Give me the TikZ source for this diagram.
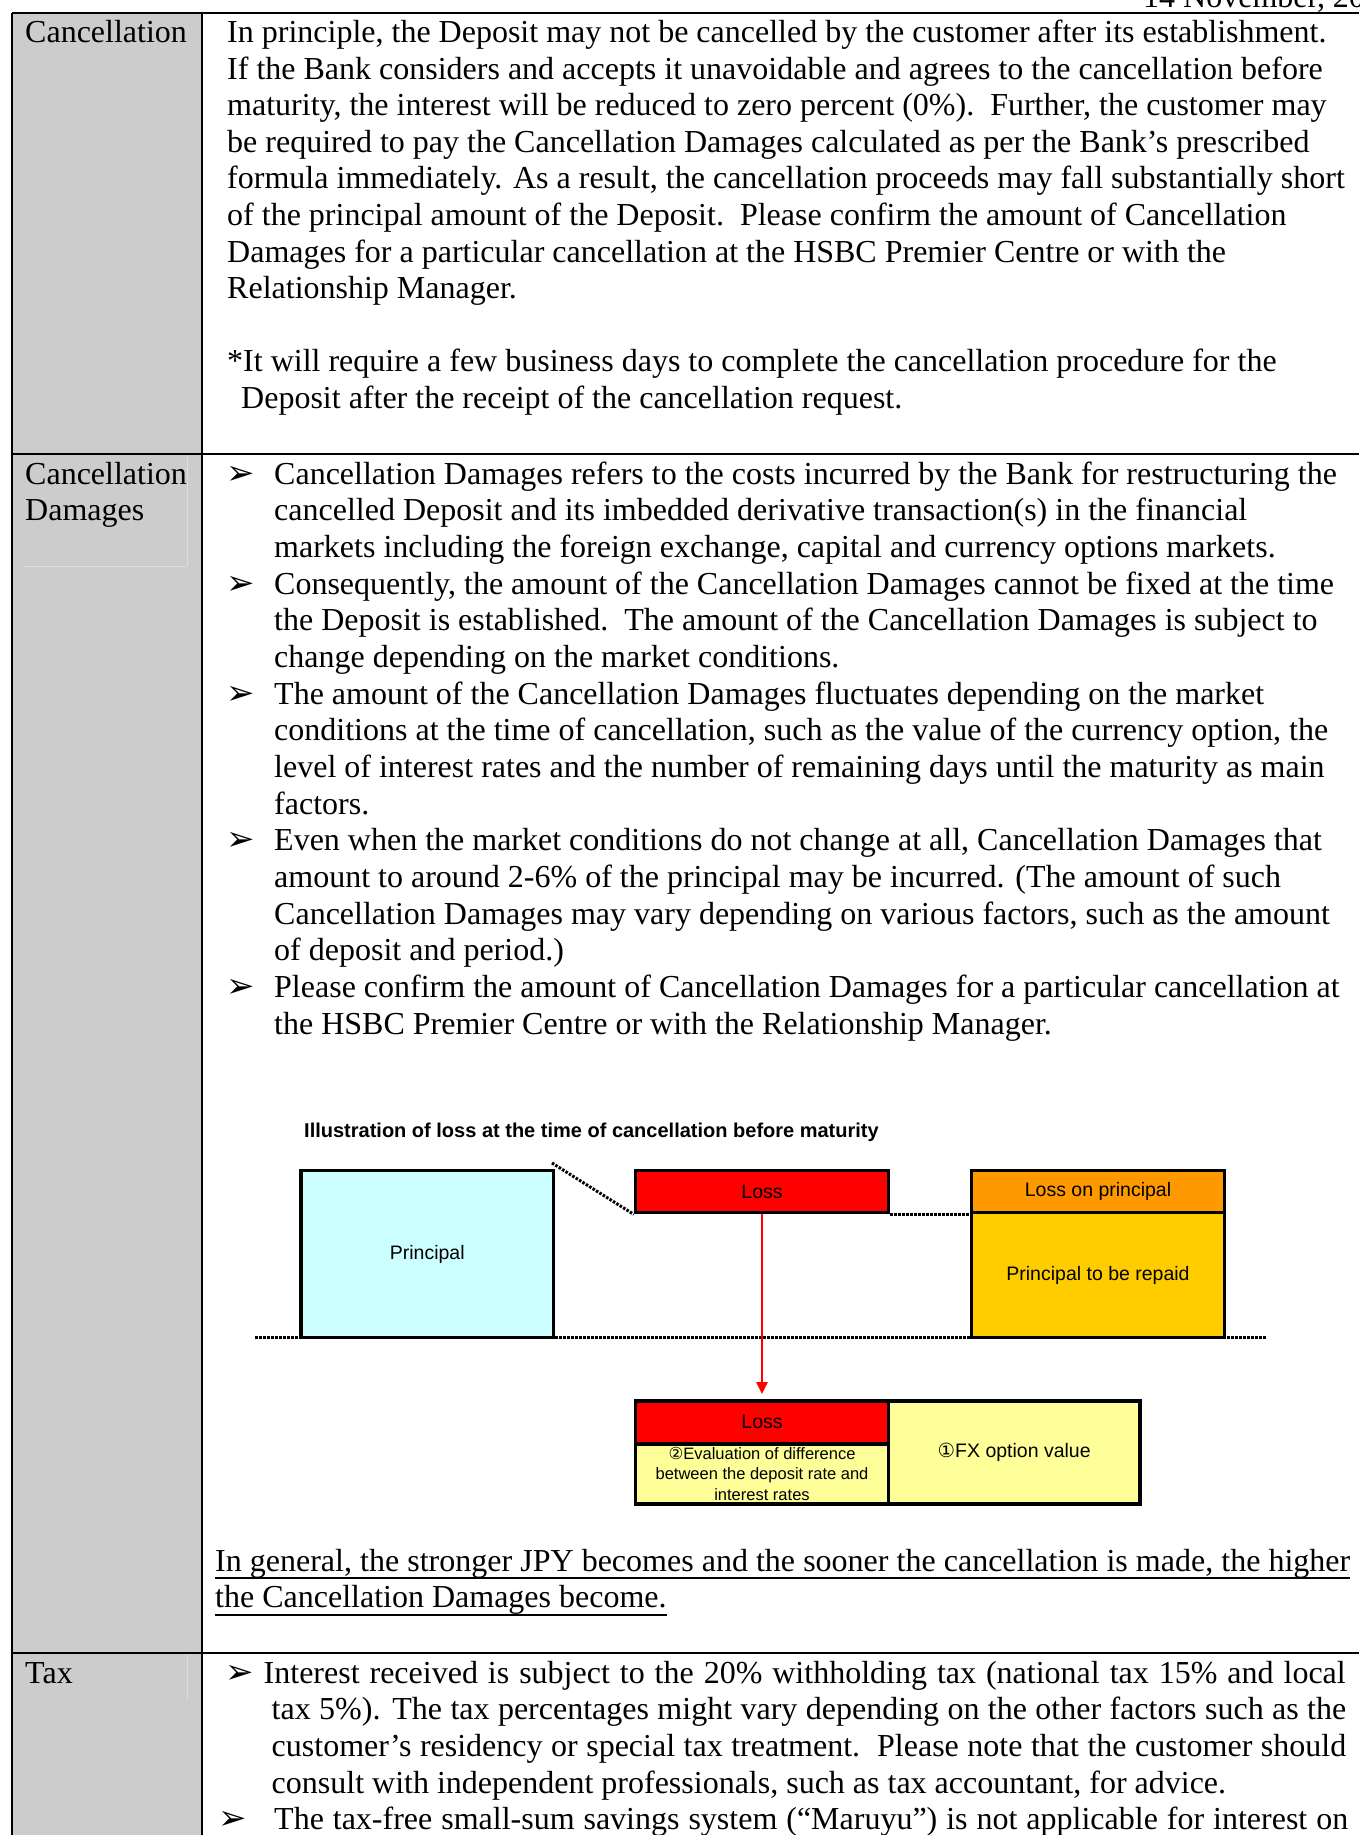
\documentclass[tikz,border=0pt]{standalone}
\usepackage{fontspec}
\setmainfont{Liberation Serif}
\newfontfamily\arialf{Liberation Sans}
\newfontfamily\djvf{DejaVu Sans}
\usetikzlibrary{arrows.meta}
\definecolor{colgray}{RGB}{204,204,204}
\definecolor{faintline}{RGB}{222,222,222}
\definecolor{princ}{RGB}{204,255,255}
\definecolor{lossred}{RGB}{255,0,0}
\definecolor{lossor}{RGB}{255,153,0}
\definecolor{repaid}{RGB}{255,204,0}
\definecolor{lyellow}{RGB}{255,255,153}
\tikzset{
  body/.style={anchor=base west, inner sep=0pt, font=\fontsize{32}{36.6}\selectfont},
  bul/.style={anchor=base west, inner sep=0pt, font=\djvf\fontsize{34}{34}\selectfont},
  bx/.style={draw=black, line width=3.5pt, inner sep=0pt, font=\arialf\fontsize{19.5}{22}\selectfont, text=black},
  gridline/.style={line width=2pt, black},
  dotline/.style={line width=3pt, dash pattern=on 2.5pt off 1.5pt},
  redarrow/.style={draw=lossred, line width=2.5pt, -{Triangle[width=11pt,length=12pt]}, shorten >=5pt},
}
\newcommand{\circi}{{\djvf ①}}
\newcommand{\circii}{{\djvf ②}}
\begin{document}
\begin{tikzpicture}[x=1pt,y=-1pt]
\useasboundingbox (0,0) rectangle (1359,1835);
\clip (0,0) rectangle (1359,1835);
\fill[white] (0,0) rectangle (1359,1835);
% left gray column
\fill[colgray] (12,13) rectangle (202,1835);
\draw[faintline, line width=1pt] (25,566) -- (187,566);
\draw[faintline, line width=1pt] (187,456) -- (187,566);
% table lines
\draw[gridline] (11.7,12.7) -- (1359,12.7);
\draw[gridline] (11.7,12.7) -- (11.7,1835);
\draw[gridline] (202,12.7) -- (202,1835);
\draw[gridline] (11.7,454) -- (1359,454);
\draw[gridline] (11.7,1653) -- (1359,1653);
% date (cut off at the top edge, as in the reference)
\node[body] (date) at (1143,8) {14 November, 20};

% ---------------- Row 1: Cancellation
\node[body] (lab1) at (25,42.5) {Cancellation};
\node[body] (a0) at (227,42.5) {In principle, the Deposit may not be cancelled by the customer after its establishment.};
\node[body] (a1) at (227,79.1) {If the Bank considers and accepts it unavoidable and agrees to the cancellation before};
\node[body] (a2) at (227,115.7) {maturity, the interest will be reduced to zero percent (0\%).\ \ Further, the customer may};
\node[body] (a3) at (227,152.3) {be required to pay the Cancellation Damages calculated as per the Bank’s prescribed};
\node[body] (a4) at (227,188.9) {formula immediately. As a result, the cancellation proceeds may fall substantially short};
\node[body] (a5) at (227,225.5) {of the principal amount of the Deposit.\ \ Please confirm the amount of Cancellation};
\node[body] (a6) at (227,262.1) {Damages for a particular cancellation at the HSBC Premier Centre or with the};
\node[body] (a7) at (227,298.7) {Relationship Manager.};
\node[body] (a8) at (227,371.9) {*It will require a few business days to complete the cancellation procedure for the};
\node[body] (a9) at (241,408.5) {Deposit after the receipt of the cancellation request.};

% ---------------- Row 2: Cancellation Damages
\node[body] (lab2a) at (25,484.3) {Cancellation};
\node[body] (lab2b) at (25,520.95) {Damages};
\node[bul] (b1) at (226,484.3) {➢};
\node[body] (c0) at (274,484.3) {Cancellation Damages refers to the costs incurred by the Bank for restructuring the};
\node[body] (c1) at (274,520.95) {cancelled Deposit and its imbedded derivative transaction(s) in the financial};
\node[body] (c2) at (274,557.6) {markets including the foreign exchange, capital and currency options markets.};
\node[bul] (b2) at (226,594.25) {➢};
\node[body] (c3) at (274,594.25) {Consequently, the amount of the Cancellation Damages cannot be fixed at the time};
\node[body] (c4) at (274,630.9) {the Deposit is established.\ \ The amount of the Cancellation Damages is subject to};
\node[body] (c5) at (274,667.55) {change depending on the market conditions.};
\node[bul] (b3) at (226,704.2) {➢};
\node[body] (c6) at (274,704.2) {The amount of the Cancellation Damages fluctuates depending on the market};
\node[body] (c7) at (274,740.85) {conditions at the time of cancellation, such as the value of the currency option, the};
\node[body] (c8) at (274,777.5) {level of interest rates and the number of remaining days until the maturity as main};
\node[body] (c9) at (274,814.15) {factors.};
\node[bul] (b4) at (226,850.8) {➢};
\node[body] (c10) at (274,850.8) {Even when the market conditions do not change at all, Cancellation Damages that};
\node[body] (c11) at (274,887.45) {amount to around 2-6\% of the principal may be incurred. (The amount of such};
\node[body] (c12) at (274,924.1) {Cancellation Damages may vary depending on various factors, such as the amount};
\node[body] (c13) at (274,960.75) {of deposit and period.)};
\node[bul] (b5) at (226,997.4) {➢};
\node[body] (c14) at (274,997.4) {Please confirm the amount of Cancellation Damages for a particular cancellation at};
\node[body] (c15) at (274,1034.05) {the HSBC Premier Centre or with the Relationship Manager.};

% ---------------- Illustration
\node[anchor=base west, inner sep=0pt, font=\arialf\bfseries\fontsize{20}{22}\selectfont] (title) at (304,1137.5) {Illustration of loss at the time of cancellation before maturity};
\coordinate (baseL) at (255,1337.5);
\coordinate (baseR) at (1266,1337.5);
\draw[dotline] (baseL) -- (baseR);
\node[bx, fill=princ, minimum width=252.5pt, minimum height=166.6pt] (prin) at (427.25,1254) {Principal};
\node[bx, fill=lossred, minimum width=253pt, minimum height=42pt] (loss) at (762,1191.6) {Loss};
\node[bx, fill=lossor, minimum width=253pt, minimum height=42pt] (lossp) at (1098,1191.6) {Loss on principal};
\node[bx, fill=repaid, minimum width=253pt, minimum height=125pt] (repaid) at (1098,1275.1) {Principal to be repaid};
\coordinate (dstart) at (552,1163);
\draw[dotline] (dstart) -- (loss.south west);
\draw[dotline] (loss.south east) -- (lossp.south west);
\node[bx, fill=lossred, minimum width=253pt, minimum height=43pt] (loss2) at (762,1422.3) {Loss};
\node[bx, fill=lyellow, minimum width=253pt, minimum height=60.2pt, align=center, font=\arialf\fontsize{16.5}{20.8}\selectfont] (eval) at (762,1473.9) {\circii Evaluation of difference\\between the deposit rate and\\interest rates};
\node[bx, fill=lyellow, minimum width=251.6pt, minimum height=103.2pt] (fx) at (1014.2,1452.4) {\circi FX option value};
\draw[redarrow] (loss.south) -- (loss2.north);

% ---------------- Underlined conclusion
\node[body] (u1) at (215,1571) {\makebox[1135pt][s]{In general, the stronger JPY becomes and the sooner the cancellation is made, the higher}};
\node[body] (u2) at (215,1607.6) {the Cancellation Damages become.};
\draw[line width=1.8pt] ([yshift=-7pt]u1.base west) -- ([yshift=-7pt]u1.base east);
\draw[line width=1.8pt] ([yshift=-7pt]u2.base west) -- ([yshift=-7pt]u2.base east);

% ---------------- Row 3: Tax
\draw[faintline, line width=1pt] (187,1655) -- (187,1700);
\node[body] (lab3) at (25,1683.3) {Tax};
\node[bul] (t1b) at (225,1683.3) {➢};
\node[body] (t1) at (263.5,1683.3) {\makebox[1082pt][s]{Interest received is subject to the 20\% withholding tax (national tax 15\% and local}};
\node[body] (t2) at (271.5,1719.9) {\makebox[1074.5pt][s]{tax 5\%). The tax percentages might vary depending on the other factors such as the}};
\node[body] (t3) at (271.5,1756.5) {\makebox[1074.5pt][s]{customer’s residency or special tax treatment.\ \ Please note that the customer should}};
\node[body] (t4) at (271.5,1793.1) {consult with independent professionals, such as tax accountant, for advice.};
\node[bul] (t5b) at (218,1829.7) {➢};
\node[body] (t5) at (274,1829.7) {\makebox[1074pt][s]{The tax-free small-sum savings system (“Maruyu”) is not applicable for interest on}};
\end{tikzpicture}
\end{document}
